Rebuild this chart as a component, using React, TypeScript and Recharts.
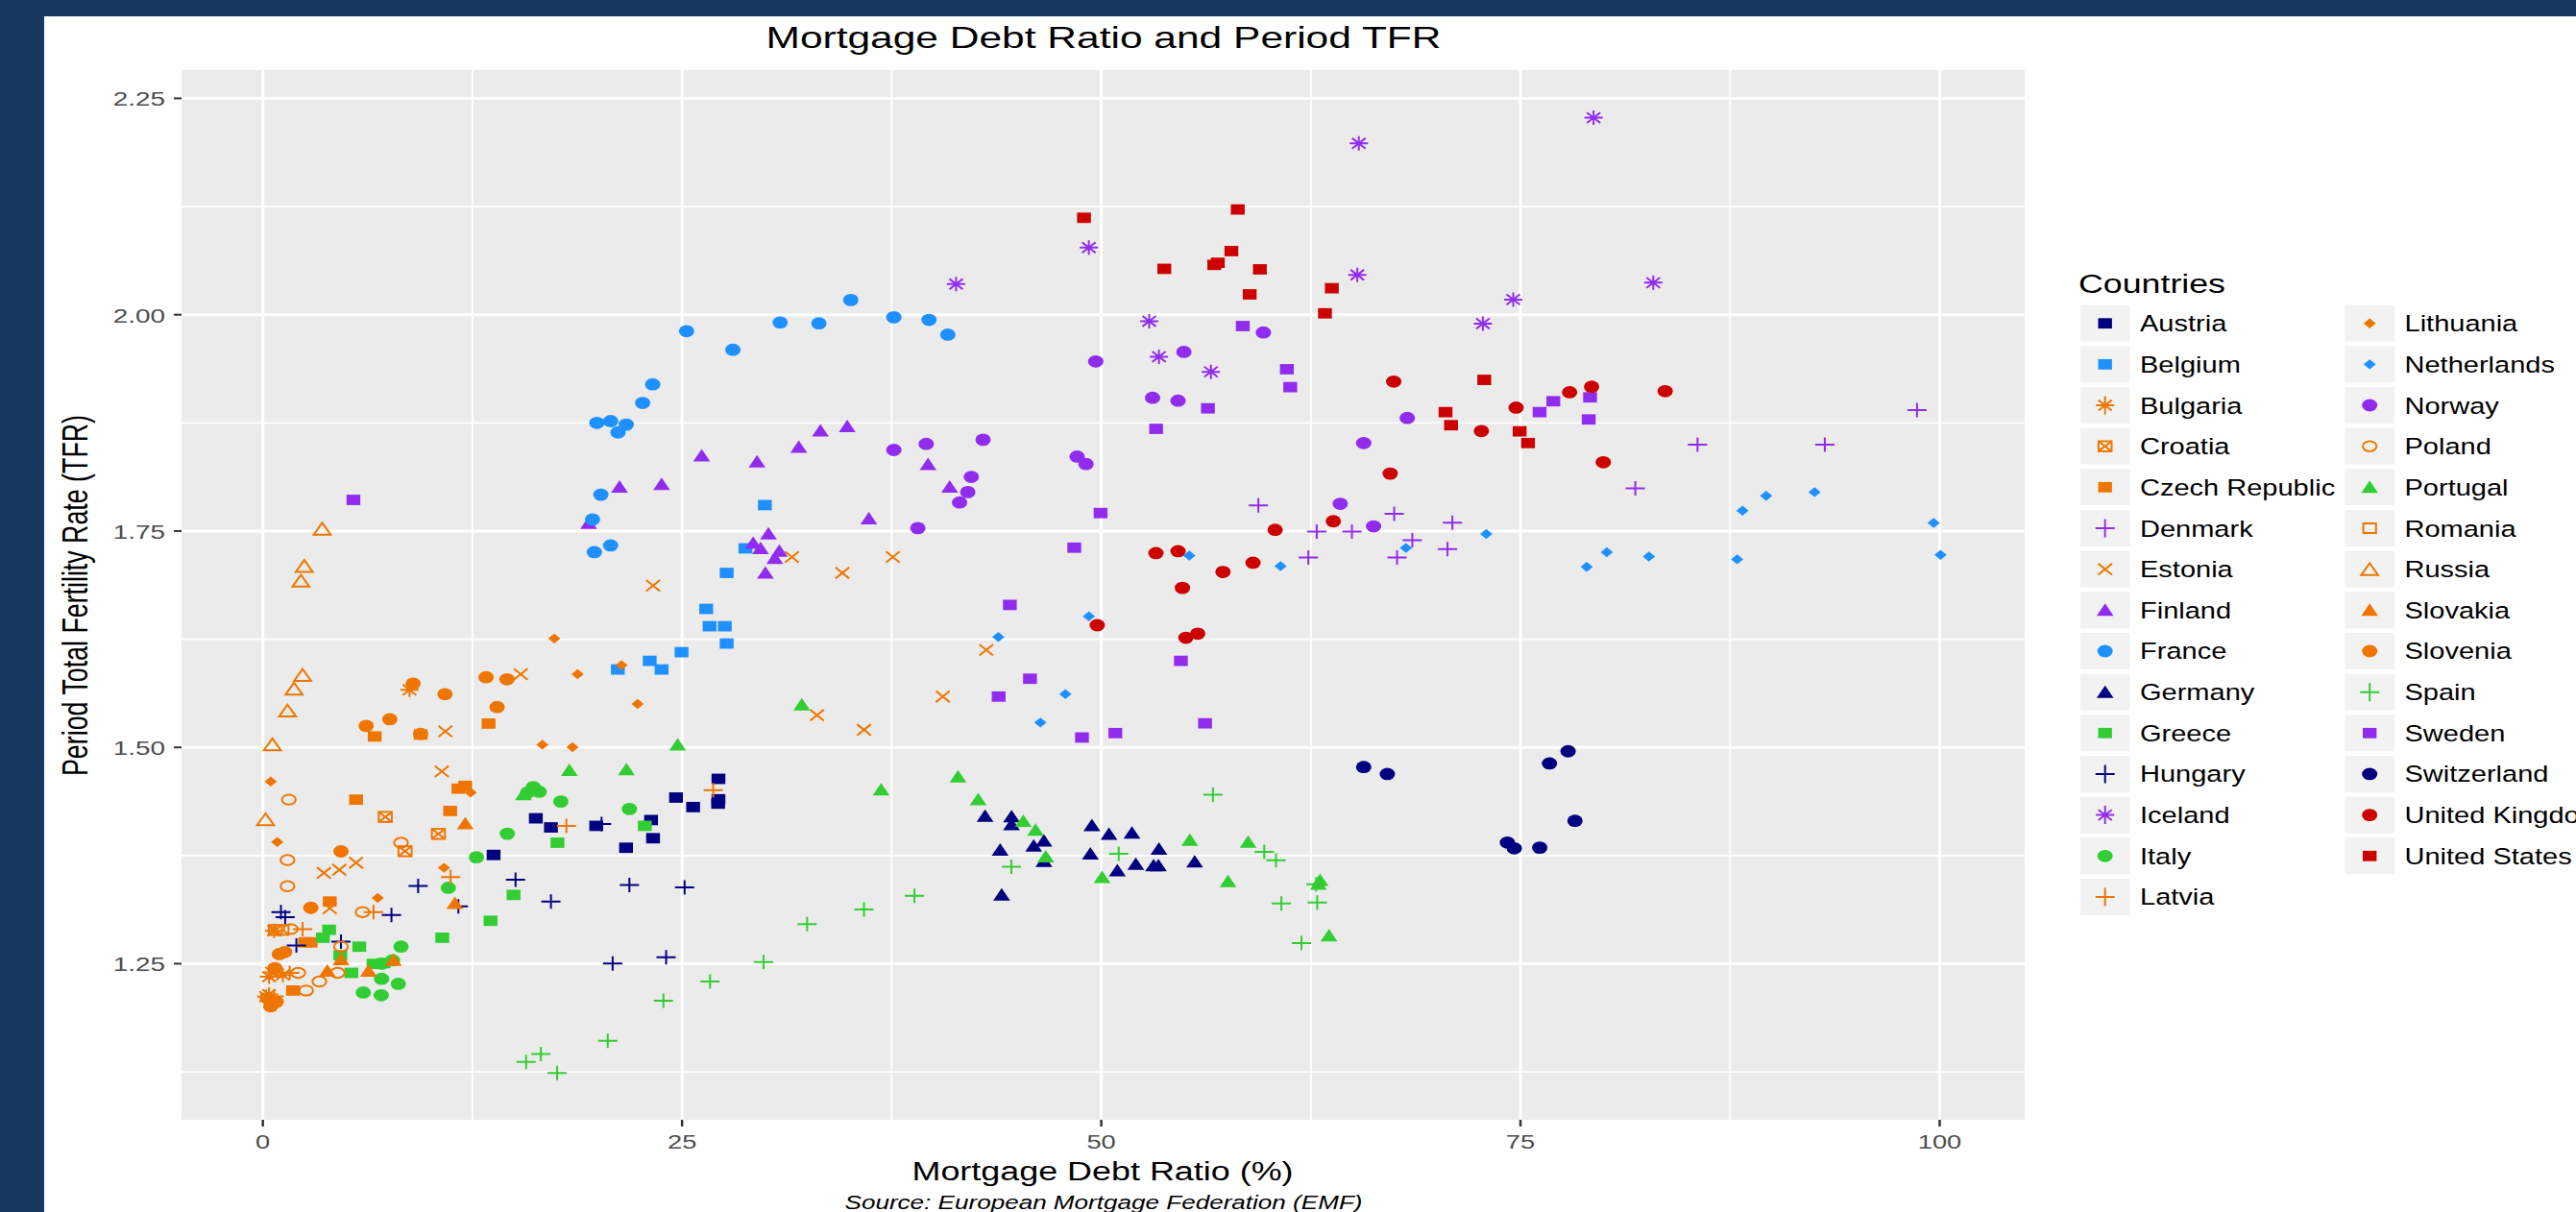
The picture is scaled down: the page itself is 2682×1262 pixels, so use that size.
import React from "react";
import { ScatterChart, Scatter, XAxis, YAxis, CartesianGrid, Legend } from "recharts";

type Pt = [number, number];

const xTicks = [0, 25, 50, 75, 100];
const yTicks = [1.25, 1.5, 1.75, 2.0, 2.25];
const xMinor = [12.5, 37.5, 62.5, 87.5];
const yMinor = [1.125, 1.375, 1.625, 1.875, 2.125];

const AUSTRIA: Pt[] = [[16.28,1.418],[17.18,1.4075],[13.76,1.3757],[19.88,1.4093],[23.15,1.416],[23.27,1.395],[21.66,1.384],[24.64,1.442],[25.66,1.431],[27.17,1.4636],[27.17,1.44],[27.15,1.435]];
const BELGIUM: Pt[] = [[21.17,1.59],[23.07,1.6],[23.78,1.59],[24.97,1.61],[26.44,1.66],[26.64,1.64],[27.55,1.64],[27.66,1.62],[27.66,1.7016],[28.78,1.73],[29.94,1.78]];
const BULGARIA: Pt[] = [[8.75,1.5665],[0.67,1.288],[0.37,1.235],[1.19,1.237],[0.37,1.2144],[0.2,1.212],[0.55,1.24]];
const CROATIA: Pt[] = [[7.3,1.4196],[10.47,1.4],[8.48,1.38],[0.75,1.289]];
const CZECH: Pt[] = [[13.46,1.5275],[9.41,1.5148],[6.67,1.5126],[5.56,1.4396],[11.17,1.4265],[11.66,1.4523],[12.07,1.4555],[3.99,1.3218],[2.52,1.2747],[2.85,1.2747],[1.8,1.219]];
const DENMARK: Pt[] = [[98.65,1.8898],[85.56,1.8497],[93.15,1.8497],[81.85,1.7994],[59.37,1.7796],[67.47,1.77],[70.94,1.7597],[62.85,1.7494],[64.95,1.7494],[68.55,1.7395],[70.65,1.7292],[67.64,1.7193],[62.35,1.7193]];
const ESTONIA: Pt[] = [[31.55,1.72],[37.57,1.72],[34.56,1.7016],[23.27,1.687],[15.38,1.5846],[10.88,1.5185],[10.67,1.4722],[5.56,1.3667],[4.56,1.3585],[3.64,1.3549],[43.14,1.6126],[40.55,1.5587],[33.05,1.5372],[35.85,1.5203],[3.99,1.314]];
const FINLAND: Pt[] = [[26.17,1.837],[29.47,1.83],[31.96,1.847],[33.25,1.866],[34.85,1.871],[21.27,1.801],[23.78,1.804],[19.43,1.759],[39.67,1.827],[40.96,1.801],[36.14,1.7645],[30.15,1.747],[29.24,1.736],[29.68,1.73],[30.8,1.727],[30.53,1.7186],[29.97,1.7016]];
const FRANCE: Pt[] = [[25.27,1.981],[28.03,1.9595],[30.85,1.991],[33.16,1.99],[35.06,2.017],[37.63,1.997],[39.73,1.994],[40.85,1.977],[23.25,1.9195],[22.65,1.898],[19.92,1.875],[20.74,1.877],[21.67,1.873],[21.18,1.864],[20.16,1.792],[19.66,1.7634],[20.74,1.7334],[19.77,1.7256]];
const GERMANY: Pt[] = [[43.07,1.4205],[44.65,1.42],[44.65,1.411],[46.58,1.392],[45.97,1.3863],[43.97,1.3816],[46.58,1.3685],[44.06,1.3296],[49.44,1.4097],[50.46,1.3999],[51.83,1.4013],[49.35,1.3769],[53.44,1.3825],[50.96,1.3577],[52.06,1.3652],[53.12,1.3633],[53.41,1.3633],[55.57,1.368]];
const GREECE: Pt[] = [[22.78,1.4093],[17.57,1.3898],[14.95,1.3295],[13.58,1.2996],[10.7,1.28],[5.75,1.2697],[4.62,1.2597],[3.95,1.2892],[3.58,1.28],[5.28,1.2394],[6.6,1.2498],[7.2,1.2507]];
const HUNGARY: Pt[] = [[1.08,1.3096],[1.33,1.3037],[2.0,1.2711],[4.66,1.2756],[7.67,1.3064],[9.26,1.3399],[11.66,1.3164],[15.07,1.3472],[17.18,1.3218],[21.86,1.3409],[25.15,1.3381],[20.86,1.2502],[24.05,1.2575],[20.2,1.4115]];
const ICELAND: Pt[] = [[65.36,2.198],[79.36,2.2276],[65.27,2.046],[82.92,2.037],[74.57,2.0175],[72.76,1.9897],[41.34,2.0354],[49.26,2.0776],[52.86,1.9925],[53.44,1.9514],[56.54,1.934]];
const ITALY: Pt[] = [[16.13,1.4541],[15.8,1.4478],[16.48,1.4487],[17.77,1.4374],[21.86,1.4288],[14.58,1.4002],[12.74,1.373],[11.06,1.3377],[8.24,1.2697],[7.73,1.2539],[7.08,1.2325],[8.08,1.2267],[5.99,1.2167],[7.06,1.2135],[7.1,1.25]];
const LATVIA: Pt[] = [[18.1,1.4093],[11.2,1.35],[6.6,1.3096],[2.37,1.29],[26.86,1.4505],[1.6,1.2394],[0.67,1.2122]];
const LITHUANIA: Pt[] = [[17.38,1.6258],[18.77,1.5846],[21.39,1.595],[22.35,1.5502],[16.67,1.5031],[18.47,1.5003],[0.47,1.4605],[0.86,1.3907],[12.39,1.4478],[10.8,1.3608],[6.85,1.3259]];
const NETHERLANDS: Pt[] = [[99.64,1.7593],[100.05,1.7225],[92.54,1.795],[89.65,1.7907],[88.24,1.7736],[87.92,1.7173],[82.66,1.7205],[80.15,1.7256],[78.95,1.7086],[72.96,1.7466],[68.17,1.7304],[60.69,1.7094],[55.25,1.7216],[49.26,1.6515],[43.86,1.6276],[47.86,1.5615],[46.37,1.5287]];
const NORWAY: Pt[] = [[49.67,1.946],[53.06,1.904],[54.58,1.9007],[54.93,1.957],[59.67,1.9795],[37.63,1.8437],[39.56,1.8507],[42.95,1.8555],[48.56,1.836],[49.09,1.8274],[42.25,1.8126],[42.04,1.795],[41.55,1.783],[39.06,1.7534],[68.25,1.8807],[65.65,1.8517],[64.25,1.7815],[66.24,1.7554]];
const POLAND: Pt[] = [[1.55,1.4396],[1.47,1.3698],[1.47,1.3395],[8.24,1.3898],[5.95,1.3096],[1.66,1.29],[4.66,1.2697],[2.11,1.2394],[4.46,1.2394],[3.37,1.2294],[2.58,1.219]];
const PORTUGAL: Pt[] = [[18.28,1.4736],[21.68,1.4745],[24.74,1.5031],[15.54,1.4455],[32.14,1.5494],[36.87,1.451],[41.46,1.466],[42.66,1.4397],[45.35,1.4149],[46.08,1.4046],[46.69,1.3736],[50.05,1.3497],[55.28,1.3928],[58.76,1.3905],[57.56,1.345],[63.05,1.3465],[62.95,1.342],[63.58,1.2823]];
const ROMANIA: Pt[] = [[1.15,1.289]];
const RUSSIA: Pt[] = [[3.54,1.7527],[2.47,1.7097],[2.27,1.6926],[2.37,1.5837],[1.86,1.5679],[1.47,1.5425],[0.57,1.5035],[0.16,1.4169]];
const SLOVAKIA: Pt[] = [[12.07,1.412],[11.45,1.32],[4.66,1.255],[6.3,1.2416],[7.79,1.254],[3.84,1.2416]];
const SLOVENIA: Pt[] = [[13.31,1.581],[14.56,1.5787],[13.97,1.5466],[10.86,1.5615],[8.96,1.5737],[7.57,1.5325],[6.16,1.5248],[9.41,1.5155],[4.66,1.3798],[2.86,1.3146],[0.98,1.2611],[1.3,1.2635],[0.72,1.2448],[0.47,1.2008],[0.27,1.21],[0.8,1.206]];
const SPAIN: Pt[] = [[26.67,1.2293],[29.86,1.2518],[32.46,1.2958],[35.85,1.3127],[38.86,1.3286],[44.64,1.362],[51.04,1.3769],[56.66,1.4453],[59.72,1.3792],[60.42,1.3694],[60.74,1.3197],[62.88,1.3207],[62.82,1.3418],[61.94,1.2738],[23.89,1.2072],[20.57,1.161],[16.58,1.1456],[15.7,1.1365],[17.55,1.1238]];
const SWEDEN: Pt[] = [[61.07,1.937],[61.27,1.9163],[76.96,1.9],[76.14,1.8874],[79.15,1.9045],[79.07,1.879],[58.44,1.9869],[56.36,1.8918],[53.27,1.8681],[49.96,1.7708],[48.39,1.7308],[44.55,1.6646],[45.75,1.5793],[43.88,1.5587],[54.75,1.6],[56.19,1.5278],[50.84,1.5165],[48.85,1.5114],[5.4,1.786]];
const SWITZERLAND: Pt[] = [[65.65,1.4773],[67.06,1.4692],[77.84,1.4955],[76.73,1.4814],[78.25,1.4151],[74.22,1.39],[74.63,1.3833],[76.15,1.3841]];
const UK: Pt[] = [[67.44,1.9227],[74.74,1.8926],[77.93,1.9104],[79.24,1.9168],[83.63,1.9116],[72.67,1.8656],[79.94,1.8295],[67.23,1.8164],[63.84,1.7613],[60.37,1.7514],[59.05,1.7134],[57.26,1.7027],[54.58,1.7267],[53.26,1.7245],[54.84,1.6843],[55.75,1.6314],[55.05,1.6267],[49.76,1.6412]];
const US: Pt[] = [[48.97,2.112],[58.14,2.1216],[53.76,2.053],[57.76,2.0735],[56.74,2.0576],[56.95,2.06],[59.46,2.0524],[58.85,2.0235],[63.75,2.0306],[63.34,2.0016],[72.84,1.9247],[70.53,1.8874],[70.86,1.8723],[74.95,1.8652],[75.45,1.8517]];

const NAVY = "#000080";
const BLUE = "#1E90FF";
const ORANGE = "#EE7600";
const PURPLE = "#912CEE";
const GREEN = "#32CD32";
const RED = "#CD0000";

type Kind = "square" | "circle" | "triangle" | "diamond" | "plus" | "x" | "star" | "ocircle" | "osquare" | "otriangle" | "boxx";

const SERIES: { name: string; points: Pt[]; color: string; kind: Kind }[] = [
  { name: "Austria", points: AUSTRIA, color: NAVY, kind: "square" },
  { name: "Belgium", points: BELGIUM, color: BLUE, kind: "square" },
  { name: "Bulgaria", points: BULGARIA, color: ORANGE, kind: "star" },
  { name: "Croatia", points: CROATIA, color: ORANGE, kind: "boxx" },
  { name: "Czech Republic", points: CZECH, color: ORANGE, kind: "square" },
  { name: "Denmark", points: DENMARK, color: PURPLE, kind: "plus" },
  { name: "Estonia", points: ESTONIA, color: ORANGE, kind: "x" },
  { name: "Finland", points: FINLAND, color: PURPLE, kind: "triangle" },
  { name: "France", points: FRANCE, color: BLUE, kind: "circle" },
  { name: "Germany", points: GERMANY, color: NAVY, kind: "triangle" },
  { name: "Greece", points: GREECE, color: GREEN, kind: "square" },
  { name: "Hungary", points: HUNGARY, color: NAVY, kind: "plus" },
  { name: "Iceland", points: ICELAND, color: PURPLE, kind: "star" },
  { name: "Italy", points: ITALY, color: GREEN, kind: "circle" },
  { name: "Latvia", points: LATVIA, color: ORANGE, kind: "plus" },
  { name: "Lithuania", points: LITHUANIA, color: ORANGE, kind: "diamond" },
  { name: "Netherlands", points: NETHERLANDS, color: BLUE, kind: "diamond" },
  { name: "Norway", points: NORWAY, color: PURPLE, kind: "circle" },
  { name: "Poland", points: POLAND, color: ORANGE, kind: "ocircle" },
  { name: "Portugal", points: PORTUGAL, color: GREEN, kind: "triangle" },
  { name: "Romania", points: ROMANIA, color: ORANGE, kind: "osquare" },
  { name: "Russia", points: RUSSIA, color: ORANGE, kind: "otriangle" },
  { name: "Slovakia", points: SLOVAKIA, color: ORANGE, kind: "triangle" },
  { name: "Slovenia", points: SLOVENIA, color: ORANGE, kind: "circle" },
  { name: "Spain", points: SPAIN, color: GREEN, kind: "plus" },
  { name: "Sweden", points: SWEDEN, color: PURPLE, kind: "square" },
  { name: "Switzerland", points: SWITZERLAND, color: NAVY, kind: "circle" },
  { name: "United Kingdom", points: UK, color: RED, kind: "circle" },
  { name: "United States", points: US, color: RED, kind: "square" },
];

const FONT = "'Liberation Sans', Arial, sans-serif";
const LEGEND_SPLIT = 15;

function Marker({ kind, color, cx, cy, legend }: { kind: Kind; color: string; cx: number; cy: number; legend?: boolean }) {
  const sw = 2;
  const line = { stroke: color, strokeWidth: sw, fill: "none" };
  switch (kind) {
    case "square":
      return <rect x={cx - 7.2} y={cy - 5.4} width={14.4} height={10.8} fill={color} />;
    case "circle":
      return <ellipse cx={cx} cy={cy} rx={8} ry={6.4} fill={color} />;
    case "triangle":
      return <path d={`M${cx} ${cy - 7}L${cx + 8.8} ${cy + 6}L${cx - 8.8} ${cy + 6}Z`} fill={color} />;
    case "diamond":
      return <path d={`M${cx - 6.4} ${cy}L${cx} ${cy - 5.2}L${cx + 6.4} ${cy}L${cx} ${cy + 5.2}Z`} fill={color} />;
    case "plus": {
      const h = legend ? 9.5 : 7.5;
      return <path d={`M${cx - 10} ${cy}H${cx + 10}M${cx} ${cy - h}V${cy + h}`} {...line} />;
    }
    case "x":
      return <path d={`M${cx - 7.2} ${cy - 5.8}L${cx + 7.2} ${cy + 5.8}M${cx - 7.2} ${cy + 5.8}L${cx + 7.2} ${cy - 5.8}`} {...line} />;
    case "star": {
      const h = legend ? 9.5 : 7.5;
      return (
        <path
          d={`M${cx - 9.5} ${cy}H${cx + 9.5}M${cx} ${cy - h}V${cy + h}M${cx - 7} ${cy - 5.4}L${cx + 7} ${cy + 5.4}M${cx - 7} ${cy + 5.4}L${cx + 7} ${cy - 5.4}`}
          {...line}
        />
      );
    }
    case "ocircle":
      return <ellipse cx={cx} cy={cy} rx={7.2} ry={5.2} {...line} />;
    case "osquare":
      return <rect x={cx - 6.6} y={cy - 5} width={13.2} height={10} {...line} />;
    case "otriangle":
      return <path d={`M${cx} ${cy - 6.2}L${cx + 8.8} ${cy + 6.2}L${cx - 8.8} ${cy + 6.2}Z`} {...line} />;
    case "boxx":
      return (
        <g {...line}>
          <rect x={cx - 6.8} y={cy - 5.2} width={13.6} height={10.4} />
          <path d={`M${cx - 6.8} ${cy - 5.2}L${cx + 6.8} ${cy + 5.2}M${cx - 6.8} ${cy + 5.2}L${cx + 6.8} ${cy - 5.2}`} />
        </g>
      );
  }
}

function LegendBox() {
  const rows = SERIES.map((s, i) => {
    const col = i < LEGEND_SPLIT ? 0 : 1;
    const row = col === 0 ? i : i - LEGEND_SPLIT;
    return { s, keyX: col === 0 ? 0 : 275.5, y: 56.7 + row * 42.66 };
  });
  return (
    <svg width={520} height={720} style={{ display: "block", overflow: "visible" }}>
      <text x={-2} y={25} fontFamily={FONT} fontSize={27} fill="#000" textLength={153} lengthAdjust="spacingAndGlyphs">
        Countries
      </text>
      {rows.map(({ s, keyX, y }) => (
        <g key={s.name}>
          <rect x={keyX} y={y - 19} width={51.5} height={38} fill="#F2F2F2" />
          <Marker kind={s.kind} color={s.color} cx={keyX + 25.7} cy={y} legend />
          <text
            transform={`translate(${keyX + 62},${y + 8.5}) scale(1.235,1)`}
            fontFamily={FONT}
            fontSize={23.5}
            fill="#000"
          >
            {s.name}
          </text>
        </g>
      ))}
    </svg>
  );
}

const XTick = (p: any) => (
  <text transform={`translate(${p.x},1196) scale(1.3,1)`} textAnchor="middle" fontFamily={FONT} fontSize={21} fill="#4D4D4D">
    {p.payload.value}
  </text>
);
const YTick = (p: any) => (
  <text transform={`translate(172,${p.y + 8}) scale(1.33,1)`} textAnchor="end" fontFamily={FONT} fontSize={21} fill="#4D4D4D">
    {Number(p.payload.value).toFixed(2)}
  </text>
);

export default function App() {
  return (
    <div style={{ position: "absolute", left: 0, top: 0, width: 2682, height: 1262, overflow: "hidden", background: "#17375E" }}>
      <div style={{ position: "absolute", left: 46, top: 17, width: 2636, height: 1245, background: "#FFFFFF" }} />
      <div style={{ position: "absolute", left: 0, top: 0 }}>
        <ScatterChart width={2682} height={1262} margin={{ top: 72.7, right: 574, bottom: 0, left: 0 }}>
          <CartesianGrid
            fill="#EBEBEB"
            stroke="#FFFFFF"
            strokeWidth={1.8}
            horizontalValues={yMinor}
            verticalValues={xMinor}
          />
          <CartesianGrid stroke="#FFFFFF" strokeWidth={3} horizontalValues={yTicks} verticalValues={xTicks} />
          <XAxis
            type="number"
            dataKey="x"
            domain={[-4.85, 105.07]}
            ticks={xTicks}
            allowDataOverflow
            height={96}
            axisLine={false}
            tickSize={7}
            tickLine={{ stroke: "#333333", strokeWidth: 2.5 }}
            tick={XTick}
            interval={0}
          />
          <YAxis
            type="number"
            dataKey="y"
            domain={[1.0696, 2.283]}
            ticks={yTicks}
            allowDataOverflow
            width={189}
            axisLine={false}
            tickSize={8}
            tickLine={{ stroke: "#333333", strokeWidth: 2 }}
            tick={YTick}
            interval={0}
          />
          <Legend
            layout="horizontal"
            verticalAlign="middle"
            align="center"
            content={() => <LegendBox />}
            wrapperStyle={{ left: 2166, top: 280, width: 516, height: 720, margin: 0 }}
          />
          {SERIES.map((s) => (
            <Scatter
              key={s.name}
              name={s.name}
              data={s.points.map(([x, y]) => ({ x, y }))}
              fill={s.color}
              isAnimationActive={false}
              shape={(p: any) => <Marker kind={s.kind} color={s.color} cx={p.cx} cy={p.cy} />}
            />
          ))}
          <text x={1149} y={50} textAnchor="middle" fontFamily={FONT} fontSize={32} fill="#000" textLength={703} lengthAdjust="spacingAndGlyphs">
            Mortgage Debt Ratio and Period TFR
          </text>
          <text x={1148} y={1229} textAnchor="middle" fontFamily={FONT} fontSize={27} fill="#000" textLength={397} lengthAdjust="spacingAndGlyphs">
            Mortgage Debt Ratio (%)
          </text>
          <text x={1149} y={1259} textAnchor="middle" fontFamily={FONT} fontStyle="italic" fontSize={20} fill="#000" textLength={539} lengthAdjust="spacingAndGlyphs">
            Source: European Mortgage Federation (EMF)
          </text>
          <text
            transform="translate(91,620) rotate(-90) scale(1,1.5)"
            textAnchor="middle"
            fontFamily={FONT}
            fontSize={25}
            fill="#000"
            textLength={376}
            lengthAdjust="spacingAndGlyphs"
          >
            Period Total Fertility Rate (TFR)
          </text>
        </ScatterChart>
      </div>
    </div>
  );
}
